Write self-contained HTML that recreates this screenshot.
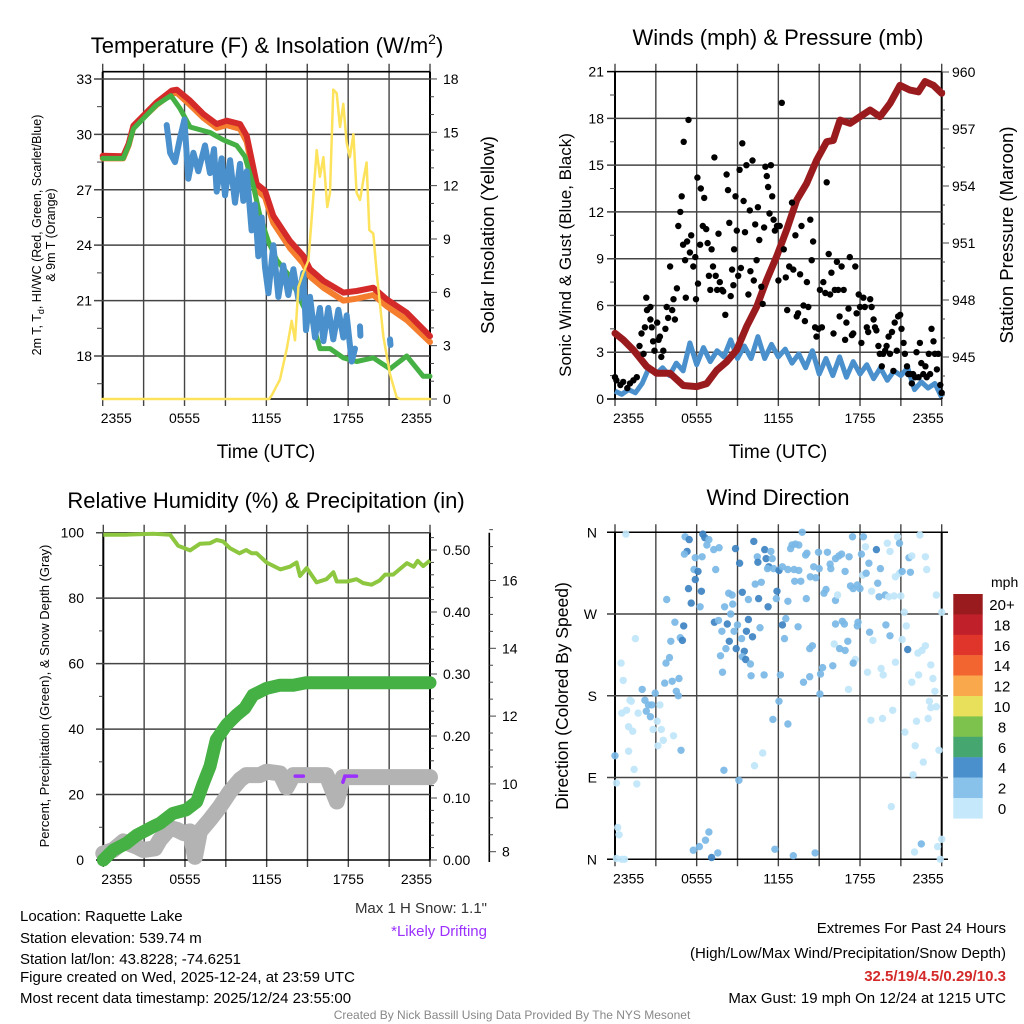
<!DOCTYPE html>
<html><head><meta charset="utf-8"><style>
html,body{margin:0;padding:0;background:#fff;}
svg{display:block;font-family:"Liberation Sans",Arial,sans-serif;}
</style></head><body>
<svg id="fig" width="1024" height="1024" viewBox="0 0 1024 1024" xmlns="http://www.w3.org/2000/svg">
<rect width="1024" height="1024" fill="#fff"/>
<g id="axes"></g>
<g id="marks"></g>
<g id="texts" fill="#000">
<text x="267" y="53" font-size="22" text-anchor="middle">Temperature (F) &amp; Insolation (W/m<tspan font-size="14" dy="-9">2</tspan><tspan dy="9">)</tspan></text>
<text x="778" y="45" font-size="22" text-anchor="middle">Winds (mph) &amp; Pressure (mb)</text>
<text x="266" y="508" font-size="22" text-anchor="middle">Relative Humidity (%) &amp; Precipitation (in)</text>
<text x="778" y="505" font-size="22" text-anchor="middle">Wind Direction</text>
<text x="266" y="458" font-size="19" text-anchor="middle">Time (UTC)</text>
<text x="778" y="458" font-size="19" text-anchor="middle">Time (UTC)</text>
<text transform="translate(41,235) rotate(-90)" font-size="12.5" text-anchor="middle">2m T, T<tspan font-size="9" dy="3">d</tspan><tspan dy="-3">, HI/WC (Red, Green, Scarlet/Blue)</tspan></text>
<text transform="translate(55,235) rotate(-90)" font-size="12.5" text-anchor="middle">&amp; 9m T (Orange)</text>
<text transform="translate(494,235) rotate(-90)" font-size="18.5" text-anchor="middle">Solar Insolation (Yellow)</text>
<text transform="translate(571,255) rotate(-90)" font-size="17" text-anchor="middle">Sonic Wind &amp; Gust (Blue, Black)</text>
<text transform="translate(1013,235) rotate(-90)" font-size="18.5" text-anchor="middle">Station Pressure (Maroon)</text>
<text transform="translate(49,696) rotate(-90)" font-size="13" text-anchor="middle">Percent, Precipitation (Green), &amp; Snow Depth (Gray)</text>
<text transform="translate(568,696) rotate(-90)" font-size="17.5" text-anchor="middle">Direction (Colored By Speed)</text>
<text x="991" y="587" font-size="14">mph</text>
<g font-size="15">
<text x="20" y="921">Location: Raquette Lake</text>
<text x="20" y="943">Station elevation: 539.74 m</text>
<text x="20" y="964">Station lat/lon: 43.8228; -74.6251</text>
<text x="20" y="982">Figure created on Wed, 2025-12-24, at 23:59 UTC</text>
<text x="20" y="1003">Most recent data timestamp: 2025/12/24 23:55:00</text>
<text x="487" y="913" text-anchor="end" fill="#333">Max 1 H Snow: 1.1"</text>
<text x="487" y="936" text-anchor="end" fill="#9b30ff">*Likely Drifting</text>
<text x="1006" y="933" text-anchor="end">Extremes For Past 24 Hours</text>
<text x="1006" y="958" text-anchor="end">(High/Low/Max Wind/Precipitation/Snow Depth)</text>
<text x="1006" y="981" text-anchor="end" fill="#d42a2a" font-weight="bold">32.5/19/4.5/0.29/10.3</text>
<text x="1006" y="1003" text-anchor="end">Max Gust: 19 mph On 12/24 at 1215 UTC</text>
</g>
<text x="512" y="1019" font-size="12" text-anchor="middle" fill="#888">Created By Nick Bassill Using Data Provided By The NYS Mesonet</text>
</g>
</svg>
<script>
// ---------- DATA ----------
const timeTicks = ["2355","0555","1155","1755","2355"];
// Panel 1: temperature (t hours, F)
const tempT = [0,1.5,1.9,2.25,3.96,5.06,5.43,6.4,7.38,8.36,9.09,10.07,10.56,11.29,11.9,12.51,13.73,14.71,15.2,16.18,17.64,18.62,19.84,20.82,22.29,24];
const tempV = [28.84,28.81,29.48,30.47,31.74,32.37,32.42,31.83,31.1,30.56,30.74,30.56,29.93,27.31,26.95,25.59,24.23,23.42,22.7,22.07,21.43,21.52,21.7,21.07,20.35,19.08];
const temp9mV = [28.7,28.7,29.4,30.4,31.6,32.2,32.25,31.6,30.9,30.35,30.5,30.3,29.6,27.0,26.6,25.2,23.85,23.0,22.3,21.7,21.0,21.1,21.3,20.7,19.95,18.75];
const dewT = [0,1.5,1.9,2.25,3.96,5.0,5.67,6.4,7.87,8.85,9.82,10.43,11.05,11.53,12.15,12.76,13.73,14.71,15.32,15.93,16.67,17.64,18.62,19.84,21.07,22.29,23.5,24];
const dewV = [28.7,28.7,29.4,30.3,31.6,32.1,31.4,30.4,30.1,29.7,29.4,28.8,27.2,25.6,24.2,23.2,22.3,20.7,20.0,18.4,18.4,17.9,17.7,17.9,17.3,18.0,16.9,16.9];
const wcT = [2.25,null,4.69,4.94,5.3,5.67,5.99,6.28,6.65,7.01,7.5,7.87,8.16,8.36,8.72,8.97,9.34,9.7,10.07,10.31,10.56,10.92,11.17,11.41,11.66,11.9,12.15,12.51,12.88,13.24,13.61,13.98,14.34,14.71,14.91,15.2,15.57,15.93,16.18,16.54,16.91,17.28,17.64,17.89,18.26,18.5,null,18.87,18.9,null,21.07,21.1];
const wcV = [28.9,null,30.5,29.0,28.5,29.8,30.8,27.6,29.0,28.0,29.4,27.9,29.2,26.9,28.7,26.7,28.6,26.3,28.4,26.4,28.0,24.8,26.2,23.4,25.5,22.8,21.4,24.0,21.2,22.9,21.3,22.7,21.1,22.5,19.4,21.2,19.0,20.6,18.8,20.6,18.9,20.5,19.0,20.2,17.7,18.4,null,19.6,19.1,null,18.9,18.6];
const solT = [0,12.2,12.39,13.0,13.49,13.86,14.1,14.35,14.71,15.08,15.32,15.69,15.93,16.18,16.47,16.67,16.91,17.16,17.4,17.64,17.89,18.13,18.38,18.62,18.87,19.11,19.35,19.55,19.84,20.09,20.58,21.07,21.55,21.8,24];
const solV = [0,0,0.2,1.1,2.8,4.4,3.3,6.3,7.1,7.8,10.1,14.0,12.5,13.6,10.8,11.6,17.4,17.2,15.3,16.6,14.4,13.6,14.9,11.6,11.2,12.3,13.3,9.5,9.3,7.1,3.5,1.4,0.1,0,0];
// Panel 2: wind, gust, pressure
const windT = [0,0.5,1,1.5,2,2.5,3,3.5,4,4.5,5,5.5,6,6.5,7,7.5,8,8.5,9,9.5,10,10.5,11,11.5,12,12.5,13,13.5,14,14.5,15,15.5,16,16.5,17,17.5,18,18.5,19,19.5,20,20.5,21,21.5,22,22.5,23,23.5,24];
const windV = [0.5,0.3,0.6,0.4,1.0,2.0,1.6,2.0,1.5,2.3,1.8,3.6,2.2,3.3,2.4,3.1,2.7,3.8,2.6,3.4,2.6,4.0,2.6,3.5,2.7,3.2,2.3,2.9,2.0,3.1,1.6,2.6,1.5,2.7,1.4,2.4,1.6,2.2,1.3,2.0,1.2,1.8,1.5,2.0,0.6,1.1,0.7,1.0,0.1];
const gustT = [0,0.1,0.4,0.6,0.9,1.1,1.35,1.6,1.8,1.95,2.1,2.2,2.3,2.35,2.6,2.6,2.7,2.8,2.9,3.1,3.2,3.3,3.4,3.55,3.7,3.8,3.9,4.05,4.2,4.3,4.4,4.55,4.65,4.8,4.9,5.0,5.05,5.15,5.2,5.3,5.4,5.5,5.6,5.75,5.9,5.95,6.05,6.1,6.25,6.3,6.45,6.55,6.7,6.8,6.9,7.0,7.1,7.2,7.3,7.4,7.5,7.6,7.7,7.85,7.95,8.1,8.2,8.3,8.4,8.5,8.6,8.7,8.75,8.85,8.95,9.05,9.15,9.25,9.35,9.45,9.55,9.65,9.8,9.9,9.95,10.1,10.2,10.3,10.4,10.5,10.6,10.75,10.85,10.95,11.05,11.15,11.25,11.35,11.45,11.55,11.65,11.75,11.9,12.0,12.1,12.25,12.4,12.55,12.65,12.8,13.0,13.1,13.25,13.35,13.45,13.6,13.7,13.85,13.95,14.1,14.2,14.35,14.45,14.55,14.7,14.8,14.95,15.05,15.2,15.3,15.45,15.55,15.7,15.8,15.9,16.05,16.15,16.3,16.4,16.5,16.65,16.8,16.9,17.0,17.15,17.25,17.4,17.5,17.65,17.75,17.9,18.0,18.1,18.25,18.35,18.5,18.6,18.75,18.85,19.0,19.1,19.2,19.35,19.45,19.6,19.7,19.85,19.95,20.1,20.2,20.35,20.45,20.55,20.7,20.8,20.95,21.05,21.2,21.3,21.45,21.55,21.7,21.8,21.9,22.05,22.15,22.3,22.4,22.5,22.65,22.8,22.9,23.05,23.15,23.25,23.4,23.5,23.65,23.75,23.9,24];
const gustV = [1.4,1.2,0.9,1.1,0.7,1.0,1.2,1.4,3.4,4.2,2.9,4.6,6.5,5.7,5.1,5.9,4.6,3.7,3.1,4.9,3.8,4.0,2.7,3.1,4.5,5.9,5.2,8.5,5.7,6.4,5.1,7.1,11.1,12.0,13.0,9.9,16.5,8.9,6.5,10.1,17.9,9.4,10.5,8.5,9.1,6.4,14.2,7.4,9.9,13.5,11.1,12.9,10.9,10.0,7.9,7.0,9.6,8.5,15.5,7.9,7.0,10.6,7.5,7.0,6.9,5.4,14.4,13.4,11.3,6.6,8.3,7.3,9.6,13.0,10.8,7.9,14.7,8.4,16.4,12.7,10.7,15.0,6.7,12.1,8.2,15.3,7.6,11.2,8.9,12.3,10.2,7.2,6.1,11.0,14.9,14.3,13.6,11.9,15.0,13.0,11.5,10.8,11.1,7.6,11.1,19.0,9.6,7.8,5.7,8.5,12.6,8.3,10.5,5.3,5.5,8.0,11.1,6.0,5.0,7.5,5.9,11.5,8.9,10.1,4.6,4.0,4.5,7.0,4.6,7.5,6.8,13.9,9.3,6.7,8.1,4.2,7.0,8.8,7.0,5.3,8.5,7.0,3.8,4.9,5.8,9.1,4.1,4.2,8.5,5.5,6.7,5.9,3.6,6.5,5.9,4.6,4.3,6.4,5.9,5.1,4.6,4.4,3.4,2.9,2.1,2.9,3.1,3.4,4.0,2.9,4.3,1.8,4.9,3.1,5.3,5.4,4.5,3.6,2.9,2.1,1.6,1.6,1.0,1.6,1.4,3.0,1.4,3.6,2.3,1.6,2.1,1.4,2.9,1.6,4.5,3.7,2.9,1.9,2.9,0.9,0.4];
const presT = [0,0.61,1.35,2.33,3.06,4.04,5.02,6.0,6.74,7.47,8.2,8.94,9.67,10.41,11.14,11.88,12.61,13.35,14.08,14.82,15.55,16.04,16.53,17.27,18.0,18.74,19.47,20.21,20.94,21.67,22.29,22.78,23.39,24];
const presV = [946.25,945.9,945.37,944.5,944.14,944.14,943.5,943.44,943.6,944.3,944.75,945.37,946.6,947.65,949.05,950.3,951.7,953.26,954.14,955.37,956.33,956.4,957.47,957.3,957.65,958.0,957.65,958.35,959.3,959.05,958.96,959.5,959.3,958.88];
// Panel 3: RH, precip, snow depth
const rhT = [0,1.7,3.67,4.9,5.5,6.37,7.1,7.84,8.33,8.8,9.3,10.0,10.5,10.9,11.27,12.0,13.0,13.7,14.2,14.45,14.94,15.67,16.4,16.9,17.15,17.9,18.6,19.1,19.7,20.3,20.7,21.3,22.3,22.8,23.1,23.5,24];
const rhV = [99.4,99.4,99.7,99.4,96.0,94.6,96.6,96.8,97.8,97.3,95.3,93.7,94.7,93.7,93.7,90.9,88.8,89.6,90.9,86.8,89.2,84.8,85.8,87.9,85.1,85.1,85.8,84.6,84.1,85.4,87.2,87.2,90.7,89.6,91.4,89.8,91.5];
const precipT = [0,0.73,1.7,2.45,3.67,4.16,5.1,6.1,6.86,7.35,7.84,8.3,9.06,9.8,10.4,11.0,12.0,12.98,13.96,14.9,24];
const precipV = [0,0.016,0.027,0.04,0.054,0.059,0.075,0.081,0.094,0.124,0.151,0.194,0.218,0.234,0.245,0.266,0.277,0.282,0.282,0.286,0.286];
const snowT = [0,0.73,1.47,2.45,2.94,3.8,4.16,4.9,5.4,5.9,6.37,6.74,7.1,7.84,8.57,9.3,10.04,10.5,11.5,12.0,12.98,13.47,13.96,16.4,17.15,17.6,24];
const snowV = [7.95,8.05,8.3,8.15,8.05,8.1,8.35,8.7,8.65,8.55,8.6,7.85,8.6,8.95,9.33,9.77,10.12,10.26,10.26,10.36,10.31,9.9,10.26,10.26,9.48,10.2,10.2];
const driftT = [14.1,14.7,null,17.6,17.75,18.6];
const driftV = [10.23,10.23,null,10.05,10.23,10.23];
// Panel 4: wind direction [hour, degrees, speed mph]
const dirT = [0.8,0.1,0.5,0.7,0.2,0.3,0.1,0,1.6,1.4,1.0,1.5,0.45,0.6,1.1,1.2,0.5,0.85,1.7,1.0,1.3,2.0,2.2,2.45,2.7,2.3,2.6,2.95,3.3,3.1,2.8,3.4,3.15,3.55,4.3,4.85,3.65,4.2,4.7,4.5,4.65,3.75,4.0,4.1,4.8,4.95,4.4,5.05,3.8,5.15,5.45,5.3,5.1,5.9,5.8,6.1,5.9,5.4,6.35,5.6,6.25,6.45,6.6,6.9,6.75,7.25,7.65,6.4,7.4,8.85,9.15,8.35,8.6,9.35,8.65,8.05,9.8,10.55,11.25,8.5,7.3,7.6,8.25,7.85,8.75,9.0,9.3,9.8,9.65,10.1,8.4,8.15,8.9,9.5,9.35,9.6,7.75,9.95,7.9,10.0,10.95,10.65,10.2,11.0,11.45,10.45,10.5,11.1,11.55,11.3,11.2,11.65,12.05,12.3,10.3,10.75,11.9,11.85,12.7,12.55,12.3,12.45,13.45,12.15,12.05,11.6,12.7,13.75,13.0,13.25,13.5,12.9,14.0,14.1,14.95,15.6,12.7,13.15,13.5,13.65,13.2,14.35,14.75,14.6,15.0,15.8,15.85,16.2,16.45,16.65,17.2,16.9,15.5,15.35,16.2,16.35,14.05,16.2,16.7,16.85,17.8,17.85,17.1,16.1,16.5,16.9,14.3,14.5,15.25,15.1,14.3,13.85,15.05,16.0,17.15,17.65,17.5,17.45,18.25,18.4,19.2,18.1,18.65,18.2,18.45,19.5,19.3,18.85,17.3,17.5,17.8,18.0,19.4,19.85,20.1,20.5,21.0,20.0,20.2,20.75,20.9,20.6,20.9,21.1,21.7,21.6,21.8,22.4,22.8,22.9,23.6,21.25,24.0,18.7,18.95,19.9,20.2,21.1,21.4,21.5,22.25,22.55,22.8,20.6,19.55,19.7,18.55,21.8,22.3,23.2,23.35,23.5,23.1,23.2,23.6,20.4,19.65,18.8,22.15,23.0,21.3,22.05,23.8,22.65,21.9,20.3,24.0,23.7,22.5,22.0,23.9,10.85,10.25,8.0,9.1,6.9,6.65,6.2,5.75,7.55,7.1,11.75,13.1,14.7];
const dirD = [358,1,0,0,35,27,84,114,83,99,119,243,216,197,175,174,161,164,161,146,141,187,175,170,170,163,157,183,170,152,143,143,125,131,136,120,194,196,199,185,180,216,222,240,244,241,261,257,286,355,352,339,336,332,319,317,308,298,295,282,278,358,354,352,346,341,343,333,319,342,326,293,291,294,281,278,286,287,278,270,261,263,259,251,251,258,243,264,251,245,240,232,232,229,223,220,224,215,206,202,203,255,350,341,339,333,327,331,331,322,320,320,318,322,303,305,295,287,284,265,258,243,256,203,174,154,149,360,346,347,346,342,335,337,338,338,319,319,318,306,306,311,310,322,320,325,320,331,334,336,333,317,297,293,285,291,287,259,262,259,257,261,240,237,232,230,232,235,211,204,201,195,182,213,187,220,216,355,355,344,341,336,326,313,315,320,304,295,301,298,302,298,289,291,289,290,290,348,339,355,348,311,315,317,316,332,334,357,333,319,291,272,272,250,241,258,246,242,257,231,227,230,235,217,210,203,206,195,203,214,199,185,174,167,168,164,155,153,152,155,140,125,120,107,93,58,22,14,17,8,0,117,103,98,87,30,21,14,10,7,2,11,4,7];
const dirS = [1,1,1,1,1,1,1,3,1,1,1,1,1,1,1,1,1,1,1,1,1,3,3,3,3,3,3,3,1,1,1,1,1,1,1,3,3,3,3,3,3,3,3,3,3,5,3,5,3,3,5,5,3,3,3,5,5,5,5,5,3,5,5,3,3,3,3,3,3,5,5,3,3,5,3,3,3,5,5,3,5,3,5,3,3,3,3,5,5,5,5,3,5,5,3,5,3,3,3,3,3,3,5,5,3,3,5,5,3,5,3,3,5,3,3,3,5,3,3,3,5,3,3,3,3,3,3,3,3,3,3,3,3,3,3,3,3,3,3,3,3,3,3,3,3,3,3,3,3,3,3,3,3,3,3,1,3,3,3,3,3,3,3,1,3,3,3,3,3,3,3,3,3,3,1,1,3,3,3,1,5,3,3,1,3,3,3,1,3,3,3,3,3,3,1,1,1,1,1,1,3,1,1,3,3,3,1,1,1,1,1,1,1,3,1,3,3,1,1,5,1,1,1,1,1,1,1,1,1,1,1,1,1,1,1,1,1,1,1,1,1,1,1,1,1,1,1,1,3,1,1,1,1,3,3,3,3,3,3,3,5,3,3,3,3,1];
const cbLabels = ["20+","18","16","14","12","10","8","6","4","2","0"];
const cbColors = ["#9a1b1e","#c0202a","#e0352a","#f26530","#f9a84b","#e8e05a","#7ec24e","#45a66f","#4a90cc","#88c2ea","#c5e8fa"];

// ---------- SCALES ----------
const NS="http://www.w3.org/2000/svg";
const axes=document.getElementById('axes'), marks=document.getElementById('marks');
const x1=t=>102.7+t*327.3/24, yT=v=>356-(v-18)*18.47, yS=v=>399-v*17.78;
const x2=t=>615+t*326.7/24, yW=v=>399-v*15.59, yP=p=>72+(960-p)*19;
const x3=t=>103.3+t*326.7/24, yRH=v=>860-v*3.273, yPr=p=>860-p*620, ySn=s=>851.7-(s-8)*33.9;
const x4=t=>615+t*326.7/24, yD=d=>859.3-d*327/360;

function mk(tag,attrs,parent){const e=document.createElementNS(NS,tag);for(const k in attrs)e.setAttribute(k,attrs[k]);parent.appendChild(e);return e;}
function pathD(ts,vs,xf,yf){let d='',pen=false;for(let i=0;i<ts.length;i++){if(ts[i]===null||vs[i]===null){pen=false;continue;}d+=(pen?'L':'M')+xf(ts[i]).toFixed(1)+' '+yf(vs[i]).toFixed(1);pen=true;}return d;}
function hl(x0,x1_,y,parent,stroke,w){return mk('line',{x1:x0,x2:x1_,y1:y,y2:y,stroke:stroke,'stroke-width':w},parent);}
function vl(x,y0,y1_,parent,stroke,w){return mk('line',{x1:x,x2:x,y1:y0,y2:y1_,stroke:stroke,'stroke-width':w},parent);}
function txt(x,y,s,anchor,parent,size){const e=mk('text',{x:x,y:y,'text-anchor':anchor,'font-size':size||14},parent);e.textContent=s;return e;}

function panelFrame(xf,L,R,T,B,name){
  const g=mk('g',{},axes);
  
  
  for(let h=0;h<=24;h+=3){const l=vl(xf(h),T-8,B+7,g,'#444',1.4);}
  // x tick labels
  const pos=[0,6,12,18,24];
  pos.forEach((h,i)=>{
    const anchor=i===0?'start':(i===4?'end':'middle');
    const xx=i===0?xf(h)-2:(i===4?xf(h)+2:xf(h));
    const e=txt(xx,B+24,timeTicks[i],anchor,g,14);
    
    
  });
  vl(L,T,B,g,'#000',2);vl(R,T,B,g,'#000',2);
  return g;
}

// ---------- PANEL 1 ----------
(function(){
  const g=panelFrame(x1,102.7,430,71.7,399,'temp');
  hl(102.7,430,71.7,g,'#000',1.6);
  hl(102.7,430,399,g,'#000',1.6);
  for(let v=18;v<=33;v+=3){hl(94,430,yT(v),g,'#444',1.5);const e=txt(92,yT(v)+5,String(v),'end',g,14);}
  for(let v=16.5;v<=33;v+=3){hl(97,102.7,yT(v),g,'#444',1);}
  for(let v=0;v<=18;v+=1){hl(430,v%3===0?437:434,yS(v),g,'#444',1);}
  for(let v=0;v<=18;v+=3){const e=txt(443,yS(v)+5,String(v),'start',g,14);}
  const s=[[tempT,temp9mV,'#f47d2e',6,'temp-9m-line'],[tempT,tempV,'#d42a2a',6,'temp-2m-line'],[dewT,dewV,'#45b043',5,'dewpoint-line'],[wcT,wcV,'#4a90cc',6,'windchill-line'],[solT,solV,'#fde25b',2.5,'insolation-line']];
  s.forEach(a=>{const p=mk('path',{d:pathD(a[0],a[1],x1,a[4]==='insolation-line'?yS:yT),fill:'none',stroke:a[2],'stroke-width':a[3],'stroke-linejoin':'round','stroke-linecap':'round'},marks);
    
    });
})();

// ---------- PANEL 2 ----------
(function(){
  const g=panelFrame(x2,615,941.7,71.7,399,'wind');
  for(let v=0;v<=21;v+=3){hl(607,941.7,yW(v),g,v===0||v===21?'#000':'#444',1.5);const e=txt(604,yW(v)+5,String(v),'end',g,14);}
  for(let v=1.5;v<21;v+=3){hl(610,615,yW(v),g,'#444',1);}
  for(let p=943;p<=960;p++){hl(941.7,(p%3===0)?949:945,yP(p),g,'#444',1);}
  for(let p=945;p<=960;p+=3){const e=txt(952,yP(p)+5,String(p),'start',g,14);}
  const w=mk('path',{d:pathD(windT,windV,x2,yW),fill:'none',stroke:'#4a90cc','stroke-width':5,'stroke-linejoin':'round'},marks);
  
  
  const pr=mk('path',{d:pathD(presT,presV,x2,yP),fill:'none',stroke:'#9a1b1e','stroke-width':7,'stroke-linejoin':'round','stroke-linecap':'round'},marks);
  
  
  for(let i=0;i<gustT.length;i++){
    const c=mk('circle',{cx:x2(gustT[i]).toFixed(1),cy:yW(gustV[i]).toFixed(1),r:3.2,fill:'#000'},marks);
    
    
  }
})();

// ---------- PANEL 3 ----------
(function(){
  const g=panelFrame(x3,103.3,430,532.7,860,'rh');
  for(let v=0;v<=100;v+=20){hl(96,430,yRH(v),g,v===0?'#000':'#444',1.5);const e=txt(84,yRH(v)+5,String(v),'end',g,14);}
  for(let v=10;v<100;v+=20){hl(99,103.3,yRH(v),g,'#444',1);}
  for(let i=0;i<=26;i++){const p=i*0.02;hl(430,i%5===0?437:434,yPr(p),g,'#444',1);}
  for(let i=0;i<=5;i++){const e=txt(443,yPr(i*0.1)+5,(i*0.1).toFixed(2),'start',g,14);}
  vl(489.3,532.7,862,g,'#000',1.6);
  for(let s=8;s<=17.5;s+=0.5){hl(489.3,s%2===0?496:493,ySn(s),g,'#444',1);}
  for(let s=8;s<=16;s+=2){const e=txt(502,ySn(s)+5,String(s),'start',g,14);}
  const sn=mk('path',{d:pathD(snowT,snowV,x3,ySn),fill:'none',stroke:'#b3b3b3','stroke-width':16,'stroke-linejoin':'round','stroke-linecap':'round'},marks);
  
  
  const pc=mk('path',{d:pathD(precipT,precipV,x3,yPr),fill:'none',stroke:'#45b043','stroke-width':13,'stroke-linejoin':'round','stroke-linecap':'round'},marks);
  
  
  const rh=mk('path',{d:pathD(rhT,rhV,x3,yRH),fill:'none',stroke:'#8dc63f','stroke-width':4,'stroke-linejoin':'round'},marks);
  
  
  const dr=mk('path',{d:pathD(driftT,driftV,x3,ySn),fill:'none',stroke:'#9b30ff','stroke-width':3.5,'stroke-linecap':'round'},marks);
  
  
})();

// ---------- PANEL 4 ----------
(function(){
  const g=panelFrame(x4,615,941.7,532.3,859.3,'dir');
  const labs=['N','E','S','W','N'];
  for(let i=0;i<=4;i++){const d=i*90;hl(607,948,yD(d),g,(i===0||i===4)?'#000':'#444',1.5);const e=txt(597,yD(d)+5,labs[i],'end',g,14);}
  const col=s=>s<2?'#bfe6fa':(s<4?'#7ab8e6':'#3d83c2');
  for(let i=0;i<dirT.length;i++){
    const c=mk('circle',{cx:x4(dirT[i]).toFixed(1),cy:yD(dirD[i]).toFixed(1),r:3.7,fill:col(dirS[i]),'fill-opacity':0.92},marks);
    
    
  }
  const cb=mk('g',{},axes);
  
  
  for(let i=0;i<cbColors.length;i++){
    const y=594+i*20.4;
    const r=mk('rect',{x:953.3,y:y,width:29.4,height:20.6,fill:cbColors[i]},cb);
    
    
    const t=txt(1002,y+16,cbLabels[i],'middle',cb,15);
    
    
  }
})();
</script>
</body></html>
